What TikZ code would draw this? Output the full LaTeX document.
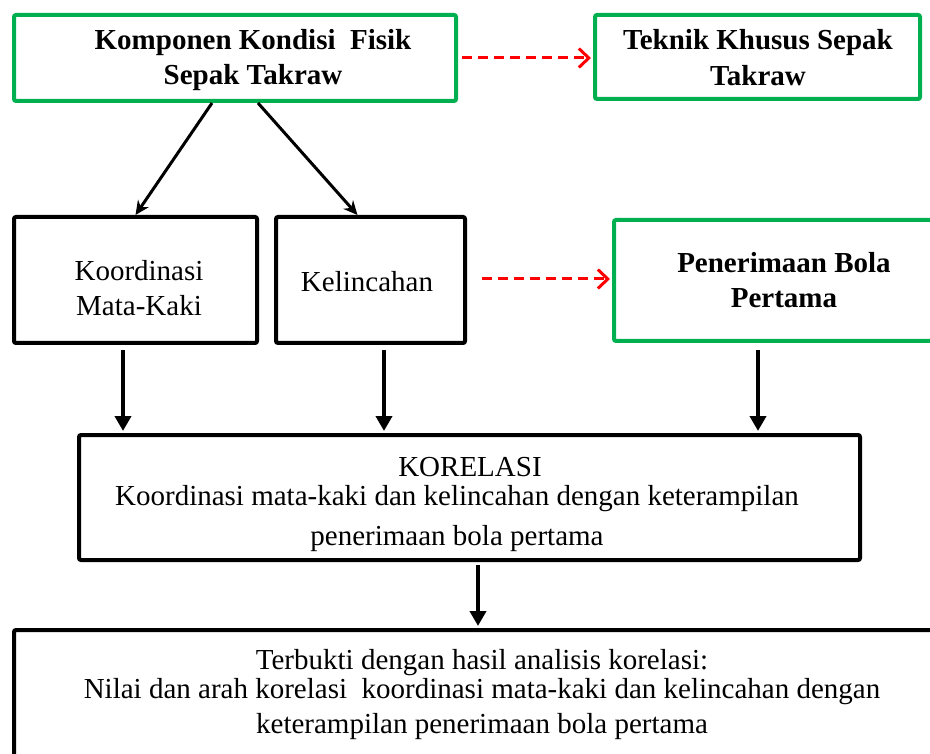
\documentclass[tikz,border=0pt]{standalone}
\usepackage{fontspec}
\setmainfont{Liberation Serif}
\usetikzlibrary{arrows.meta, positioning}
\definecolor{hijau}{RGB}{0,176,80}

\begin{document}
\begin{tikzpicture}[
        x=1pt, y=-1pt,
        font=\fontsize{29}{35}\selectfont,
        box/.style={draw, line width=4pt, rounded corners=2pt, inner sep=0pt},
        gbox/.style={box, draw=hijau},
        txt/.style={align=center, inner sep=0pt},
        arr/.style={-{Stealth[length=14pt, width=13pt]}, line width=3pt},
        darr/.style={-{Triangle[length=15pt, width=16pt]}, line width=4pt},
        rarr/.style={-{Straight Barb[length=10pt, width=19pt]}, line width=3pt, red, dash pattern=on 10pt off 6pt}
    ]
        \useasboundingbox (0,0) rectangle (930,754);

        \node[gbox, minimum width=442, minimum height=86] (komp)   at (235,58)    {};
        \node[gbox, minimum width=325, minimum height=84] (teknik) at (757.5,57)  {};
        \node[box,  minimum width=243, minimum height=126] (koord) at (135.5,280) {};
        \node[box,  minimum width=189, minimum height=126] (lincah) at (370.5,280) {};
        \node[gbox, minimum width=318, minimum height=121] (terima) at (773,280.5) {};
        \node[box,  minimum width=781, minimum height=125] (korel) at (469.5,497.5) {};
        \node[box,  minimum width=926, minimum height=140] (hasil) at (477,700)   {};

        \node[txt, font=\fontsize{29}{35}\selectfont\bfseries] (kompT)   at (253,60)  {Komponen Kondisi\ \ Fisik\\Sepak Takraw};
        \node[txt, font=\fontsize{29}{36}\selectfont\bfseries] (teknikT) at (758,58)  {Teknik Khusus Sepak\\Takraw};
        \node[txt] (koordT)  at (139,288) {Koordinasi\\Mata-Kaki};
        \node[txt] (lincahT) at (367,282) {Kelincahan};
        \node[txt, font=\fontsize{29}{35}\selectfont\bfseries] (terimaT) at (784,280) {Penerimaan Bola\\Pertama};
        \node[txt] (korelT) at (470,467) {KORELASI};
        \node[txt, font=\fontsize{29}{40}\selectfont] (korelI) at (457,519) {Koordinasi mata-kaki dan kelincahan dengan keterampilan\\penerimaan bola pertama};
        \node[txt] (hasilT) at (482,695) {Terbukti dengan hasil analisis korelasi:\\[-6pt]Nilai dan arah korelasi\ \ koordinasi mata-kaki dan kelincahan dengan\\keterampilan penerimaan bola pertama};

        \draw[arr] ([xshift=-23pt]komp.south) -- (koord.north);
        \draw[arr] ([xshift=23pt]komp.south)  -- ([xshift=-13pt]lincah.north);

        \draw[rarr, shorten <=4pt, shorten >=2pt] (komp.east) -- (komp.east -| teknik.west);
        \draw[rarr, shorten <=15pt, shorten >=2pt] ([yshift=1pt]lincah.east) -- ([yshift=1pt]lincah.east -| terima.west);

        \draw[darr, shorten <=5pt, shorten >=2pt] ([xshift=-12.5pt]koord.south) -- ([xshift=-12.5pt]koord.south |- korel.north);
        \draw[darr, shorten <=5pt, shorten >=2pt] ([xshift=13.5pt]lincah.south) -- ([xshift=13.5pt]lincah.south |- korel.north);
        \draw[darr, shorten <=7pt, shorten >=2pt] ([xshift=-15pt]terima.south) -- ([xshift=-15pt]terima.south |- korel.north);
        \draw[darr, shorten <=3pt, shorten >=2pt] ([xshift=8.5pt]korel.south) -- ([xshift=8.5pt]korel.south |- hasil.north);
    \end{tikzpicture}
\end{document}
